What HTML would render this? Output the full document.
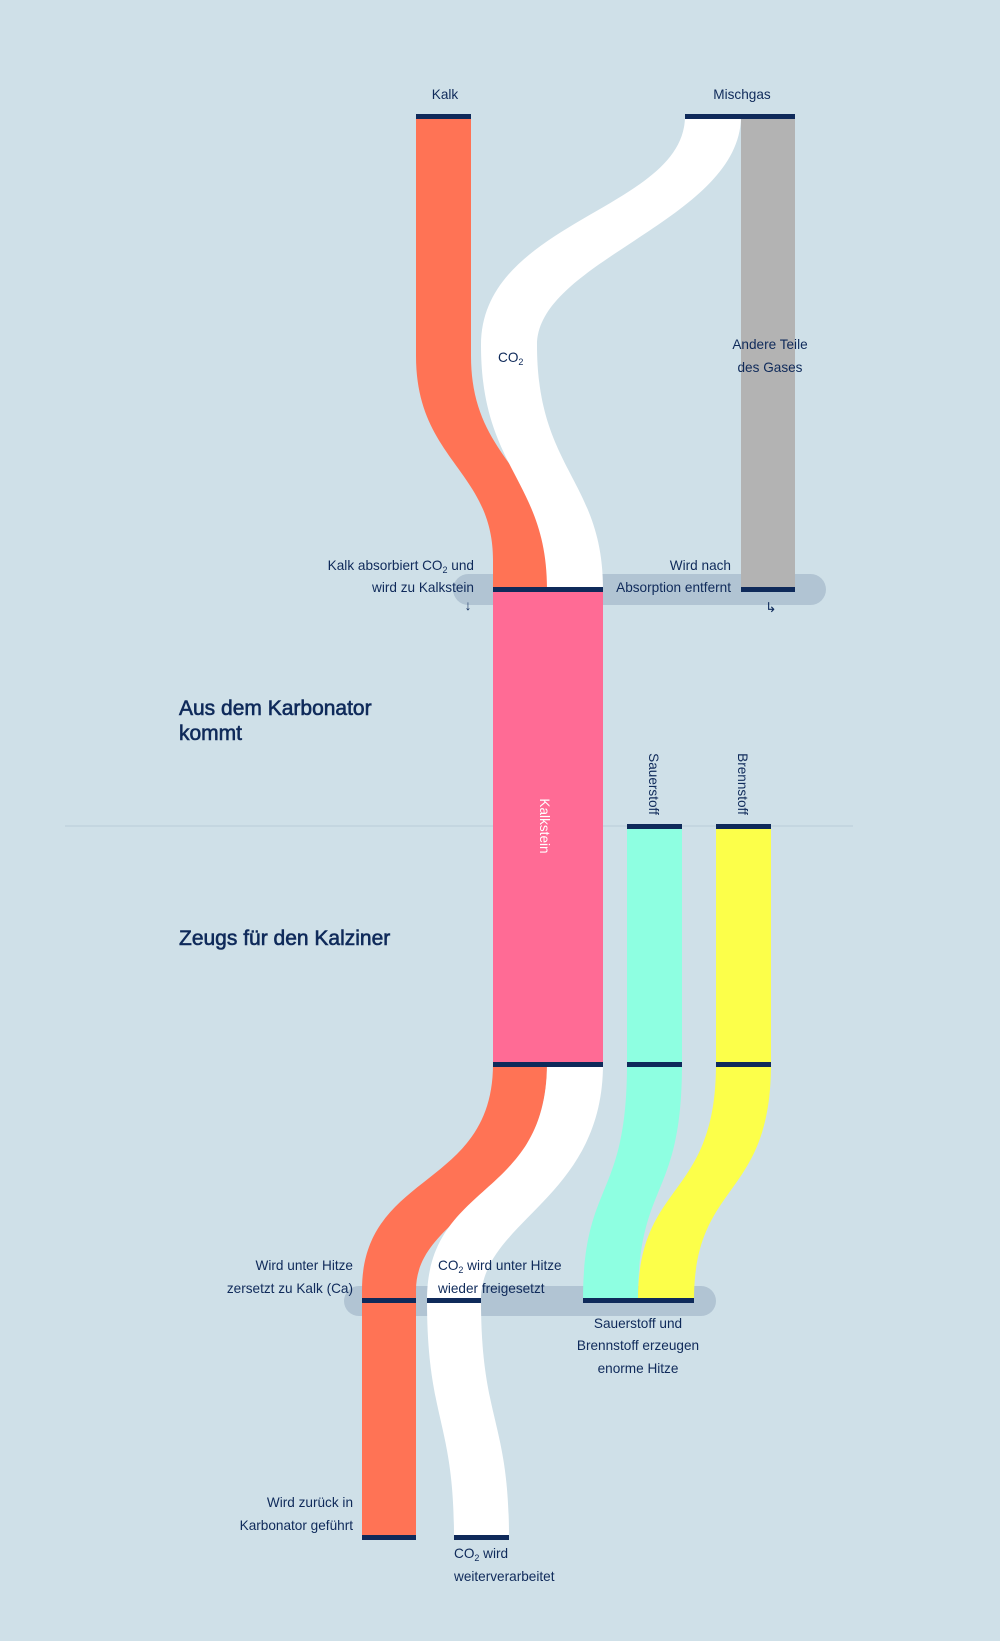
<!DOCTYPE html>
<html><head><meta charset="utf-8"><style>
html,body{margin:0;padding:0;background:#cfe0e8;}
svg{display:block;font-family:"Liberation Sans",sans-serif;}
.t{font-size:13.6px;fill:#0f2a5a;}
.h{font-size:21px;fill:#0f2a5a;stroke:#0f2a5a;stroke-width:0.6;}
</style></head><body>
<svg width="1000" height="1641" viewBox="0 0 1000 1641" xmlns="http://www.w3.org/2000/svg">
<rect width="1000" height="1641" fill="#cfe0e8"/>
<line x1="65" y1="826" x2="853" y2="826" stroke="#b9cdd8" stroke-width="1"/>
<rect x="453" y="574" width="373" height="31" rx="15.5" fill="#b1c4d3"/>
<rect x="344" y="1286" width="372" height="30" rx="15" fill="#b1c4d3"/>
<path d="M416,116 V356 C416,460 493,470 493,560 V589 H547 V560 C547,470 471,460 471,356 V116 Z" fill="#ff7355"/>
<path d="M685,116 C685,210 481,220 481,345 C481,470 547,480 547,589 H603 C603,480 537,470 537,345 C537,260 741,220 741,116 Z" fill="#ffffff"/>
<rect x="741" y="116" width="54" height="473" fill="#b3b3b3"/>
<rect x="493" y="589" width="110" height="475" fill="#ff6b95"/>
<rect x="627" y="826" width="55" height="238" fill="#8effe1"/>
<rect x="716" y="826" width="55" height="238" fill="#fcff4a"/>
<path d="M493,1064 C493,1190 362,1170 362,1290 V1537 H416 V1290 C416,1210 547,1200 547,1064 Z" fill="#ff7355"/>
<path d="M547,1064 C547,1200 427,1180 427,1300 C427,1420 454,1420 454,1537 H509 C509,1420 481,1420 481,1300 C481,1220 603,1200 603,1064 Z" fill="#ffffff"/>
<path d="M627,1064 C627,1200 583,1180 583,1300 H638 C638,1180 682,1200 682,1064 Z" fill="#8effe1"/>
<path d="M716,1064 C716,1200 638,1180 638,1300 H694 C694,1180 771,1200 771,1064 Z" fill="#fcff4a"/>
<g fill="#0f2a5a">
<rect x="416" y="114" width="55" height="5"/>
<rect x="685" y="114" width="110" height="5"/>
<rect x="493" y="587" width="110" height="5"/>
<rect x="741" y="587" width="54" height="5"/>
<rect x="627" y="824" width="55" height="5"/>
<rect x="716" y="824" width="55" height="5"/>
<rect x="493" y="1062" width="110" height="5"/>
<rect x="627" y="1062" width="55" height="5"/>
<rect x="716" y="1062" width="55" height="5"/>
<rect x="362" y="1298" width="54" height="5"/>
<rect x="427" y="1298" width="54" height="5"/>
<rect x="583" y="1298" width="111" height="5"/>
<rect x="362" y="1535" width="54" height="5"/>
<rect x="454" y="1535" width="55" height="5"/>
</g>
<text class="t" x="445" y="99" text-anchor="middle">Kalk</text>
<text class="t" x="742" y="99" text-anchor="middle">Mischgas</text>
<text class="t" x="498" y="362">CO<tspan font-size="9" dy="3">2</tspan></text>
<text class="t" x="770" y="349" text-anchor="middle">Andere Teile</text>
<text class="t" x="770" y="372" text-anchor="middle">des Gases</text>
<text class="t" x="474" y="570" text-anchor="end">Kalk absorbiert CO<tspan font-size="9" dy="3">2</tspan><tspan dy="-3"> und</tspan></text>
<text class="t" x="474" y="592" text-anchor="end">wird zu Kalkstein</text>
<text class="t" x="468" y="610" text-anchor="middle" font-size="12">↓</text>
<text class="t" x="731" y="570" text-anchor="end">Wird nach</text>
<text class="t" x="731" y="592" text-anchor="end">Absorption entfernt</text>
<text class="t" x="771" y="612" text-anchor="middle" font-size="12">↳</text>
<text class="h" x="179" y="715">Aus dem Karbonator</text>
<text class="h" x="179" y="740">kommt</text>
<text class="h" x="179" y="945">Zeugs für den Kalziner</text>
<text class="t" transform="translate(540,826) rotate(90)" text-anchor="middle" style="fill:#fff">Kalkstein</text>
<text class="t" transform="translate(649,784) rotate(90)" text-anchor="middle">Sauerstoff</text>
<text class="t" transform="translate(738,784) rotate(90)" text-anchor="middle">Brennstoff</text>
<text class="t" x="353" y="1270" text-anchor="end">Wird unter Hitze</text>
<text class="t" x="353" y="1293" text-anchor="end">zersetzt zu Kalk (Ca)</text>
<text class="t" x="438" y="1270">CO<tspan font-size="9" dy="3">2</tspan><tspan dy="-3"> wird unter Hitze</tspan></text>
<text class="t" x="438" y="1293">wieder freigesetzt</text>
<text class="t" x="638" y="1328" text-anchor="middle">Sauerstoff und</text>
<text class="t" x="638" y="1350" text-anchor="middle">Brennstoff erzeugen</text>
<text class="t" x="638" y="1373" text-anchor="middle">enorme Hitze</text>
<text class="t" x="353" y="1507" text-anchor="end">Wird zurück in</text>
<text class="t" x="353" y="1530" text-anchor="end">Karbonator geführt</text>
<text class="t" x="454" y="1558">CO<tspan font-size="9" dy="3">2</tspan><tspan dy="-3"> wird</tspan></text>
<text class="t" x="454" y="1581">weiterverarbeitet</text>
</svg>
</body></html>
